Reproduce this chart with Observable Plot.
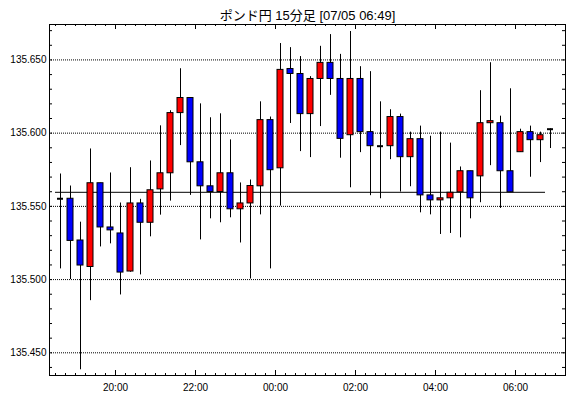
<!DOCTYPE html>
<html>
<head>
<meta charset="utf-8">
<script src="https://cdn.jsdelivr.net/npm/d3@7"></script>
<script src="https://cdn.jsdelivr.net/npm/@observablehq/plot@0.6"></script>
<style>
  html, body { margin: 0; padding: 0; background: #ffffff; }
  #chart svg { display: block; }
</style>
</head>
<body>
<div id="chart"></div>
<script>
// ---- data ----
const title = "ポンド円 15分足 [07/05 06:49]";
const times = ["18:30","18:45","19:00","19:15","19:30","19:45","20:00","20:15","20:30","20:45",
  "21:00","21:15","21:30","21:45","22:00","22:15","22:30","22:45","23:00","23:15",
  "23:30","23:45","00:00","00:15","00:30","00:45","01:00","01:15","01:30","01:45",
  "02:00","02:15","02:30","02:45","03:00","03:15","03:30","03:45","04:00","04:15",
  "04:30","04:45","05:00","05:15","05:30","05:45","06:00","06:15","06:30","06:45"];
const open = [135.5552,135.5552,135.5267,135.5086,135.5658,135.5356,135.5315,135.5055,135.5520,135.5388,
  135.5616,135.5726,135.6137,135.6240,135.5801,135.5637,135.5598,135.5726,135.5480,135.5520,
  135.5637,135.6089,135.5760,135.6438,135.6404,135.6130,135.6370,135.6480,135.6370,135.5986,
  135.6370,135.6007,135.5911,135.5911,135.6110,135.5836,135.5959,135.5575,135.5541,135.5555,
  135.5596,135.5740,135.5705,135.6068,135.6068,135.5740,135.5870,135.6007,135.5952,135.6027];
const high = [135.5721,135.5639,135.5392,135.5892,135.5658,135.5728,135.5523,135.5764,135.5548,135.5810,
  135.6050,135.6153,135.6440,135.6240,135.6200,135.6105,135.6132,135.5954,135.5660,135.5680,
  135.6214,135.6110,135.6612,135.6584,135.6523,135.6386,135.6593,135.6673,135.6538,135.6694,
  135.6454,135.6420,135.6214,135.6160,135.6130,135.6007,135.6048,135.5979,135.6007,135.5932,
  135.5769,135.5740,135.6290,135.6481,135.6116,135.6303,135.6027,135.6048,135.6007,135.6030];
const low = [135.5073,135.5000,135.4384,135.4856,135.5223,135.5244,135.4895,135.5050,135.5032,135.5292,
  135.5440,135.5536,135.5915,135.5575,135.5271,135.5415,135.5388,135.5422,135.5250,135.5004,
  135.5442,135.5073,135.5502,135.6066,135.5874,135.5833,135.6045,135.6258,135.5829,135.5627,
  135.5867,135.5573,135.5552,135.5819,135.5598,135.5634,135.5456,135.5442,135.5308,135.5315,
  135.5285,135.5415,135.5525,135.5778,135.5486,135.5596,135.5870,135.5699,135.5799,135.5895];
const close = [135.5552,135.5264,135.5096,135.5658,135.5356,135.5336,135.5048,135.5520,135.5388,135.5610,
  135.5726,135.6137,135.6240,135.5801,135.5637,135.5598,135.5726,135.5480,135.5520,135.5639,
  135.6089,135.5747,135.6432,135.6404,135.6130,135.6370,135.6480,135.6370,135.5961,135.6370,
  135.6007,135.5911,135.5911,135.6110,135.5836,135.5959,135.5575,135.5541,135.5555,135.5593,
  135.5740,135.5555,135.6068,135.6082,135.5740,135.5596,135.6007,135.5952,135.5986,135.6027];
const refLevel = 135.5596;
const yLabels = [135.45, 135.50, 135.55, 135.60, 135.65];
const xLabels = ["20:00","22:00","00:00","02:00","04:00","06:00"];

// ---- helpers ----
function toDate(hm) {
  const [h, m] = hm.split(":").map(Number);
  const day = h >= 12 ? 4 : 5; // 07/04 evening -> 07/05 morning
  return new Date(Date.UTC(2023, 6, day, h, m));
}
const MIN = 60 * 1000;
const candles = times.map((t, i) => {
  const start = toDate(t);
  return {
    start, end: new Date(+start + 15 * MIN), mid: new Date(+start + 7.5 * MIN),
    open: open[i], high: high[i], low: low[i], close: close[i]
  };
});
const bodies = candles.filter(d => d.open !== d.close);
const dojis = candles.filter(d => d.open === d.close);

const xDomain = [new Date(+toDate("18:30") - 9 * MIN), new Date(+toDate("06:45") + 30 * MIN)];
const xMinor = d3.utcMinute.every(15).range(toDate("18:30"), new Date(+toDate("07:00") + MIN));
const xMajor = xLabels.map(toDate);
const yMinor = d3.range(13544, 13568).map(v => v / 100);

const chart = Plot.plot({
  width: 570,
  height: 398,
  marginLeft: 49,
  marginRight: 5,
  marginTop: 24,
  marginBottom: 23,
  style: {
    fontFamily: "'Liberation Sans', 'Noto Sans CJK JP', sans-serif",
    fontSize: "10px",
    background: "#ffffff",
    color: "#000000"
  },
  x: { type: "utc", domain: xDomain },
  y: { domain: [135.4345, 135.6742] },
  marks: [
    Plot.ruleY(yLabels, { y: d => d, stroke: "#000", strokeDasharray: "1,1" }),
    Plot.ruleY([{ y: refLevel, x1: toDate("18:30"), x2: toDate("06:45") }],
      { y: "y", x1: "x1", x2: "x2", stroke: "#000", strokeWidth: 1 }),
    Plot.ruleX(candles, { x: "mid", y1: "low", y2: "high", stroke: "#000", strokeWidth: 1 }),
    Plot.rect(bodies, {
      x1: "start", x2: "end", y1: "open", y2: "close",
      insetLeft: 2, insetRight: 2,
      fill: d => d.close > d.open ? "#ff0000" : "#0000ff",
      stroke: "#000", strokeWidth: 1
    }),
    Plot.ruleY(dojis, { y: "close", x1: "start", x2: "end", insetLeft: 2, insetRight: 2, stroke: "#000", strokeWidth: 2 }),
    Plot.frame({ stroke: "#000" }),
    // inward ticks
    Plot.tickY(yMinor, { y: d => d, insetRight: 513, stroke: "#000" }),
    Plot.tickY(yMinor, { y: d => d, insetLeft: 513, stroke: "#000" }),
    Plot.tickX(xMinor, { x: d => d, insetBottom: 349, stroke: "#000" }),
    Plot.tickX(xMinor, { x: d => d, insetTop: 349, stroke: "#000" }),
    Plot.tickX(xMajor, { x: d => d, insetBottom: 346, stroke: "#000" }),
    Plot.tickX(xMajor, { x: d => d, insetTop: 346, stroke: "#000" }),
    // labels
    Plot.axisY(yLabels, { anchor: "left", tickSize: 0, tickPadding: 3, tickFormat: d3.format(".3f"), fontSize: 10 }),
    Plot.axisX(xMajor, { anchor: "bottom", tickSize: 0, tickPadding: 8, tickFormat: d3.utcFormat("%H:%M"), fontSize: 10 }),
    Plot.text([title], { frameAnchor: "top", lineAnchor: "middle", dy: -9, fontSize: 13, fill: "#000" })
  ]
});
document.getElementById("chart").appendChild(chart);
</script>
</body>
</html>
